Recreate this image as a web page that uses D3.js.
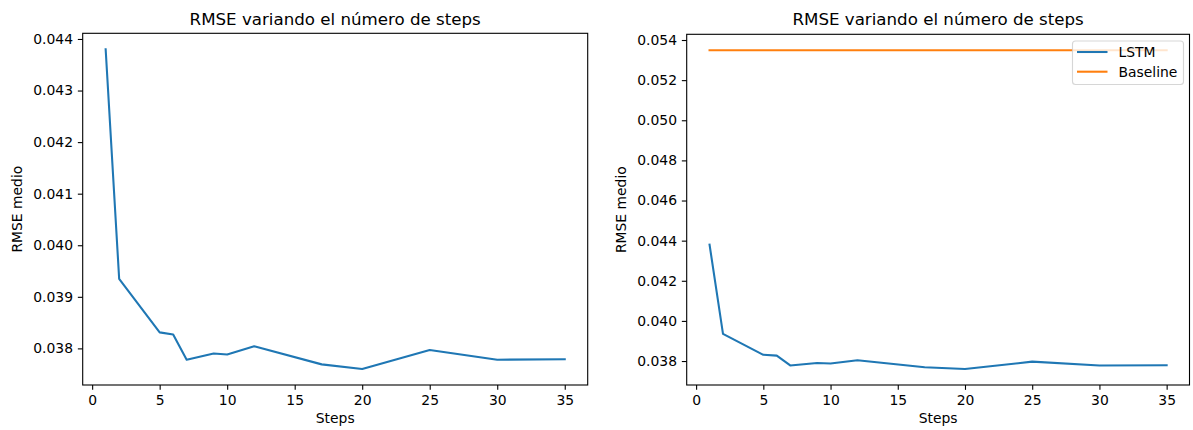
<!DOCTYPE html>
<html>
<head>
<meta charset="utf-8">
<script src="https://cdn.jsdelivr.net/npm/d3@7"></script>
<style>
  body { margin: 0; background: #fff; }
  text { font-family: "DejaVu Sans", sans-serif; fill: #000; }
</style>
</head>
<body>
<script>
// data
var steps = [1, 2, 5, 6, 7, 9, 10, 12, 17, 20, 25, 30, 35];
var rmseLstm = [0.04380, 0.03935, 0.03831, 0.03827, 0.03778, 0.03790, 0.03788,
                0.03804, 0.03769, 0.03760, 0.03797, 0.03778, 0.03779];
var rmseBaseline = [0.05349, 0.05349, 0.05349, 0.05349, 0.05349, 0.05349, 0.05349,
                    0.05349, 0.05349, 0.05349, 0.05349, 0.05349, 0.05349];
var xTicks = [0, 5, 10, 15, 20, 25, 30, 35];
var yTicksLeft = [0.038, 0.039, 0.040, 0.041, 0.042, 0.043, 0.044];
var yTicksRight = [0.038, 0.040, 0.042, 0.044, 0.046, 0.048, 0.050, 0.052, 0.054];
var title = "RMSE variando el número de steps";
var xLabel = "Steps";
var yLabel = "RMSE medio";
var seriesNames = ["LSTM", "Baseline"];
var colors = ["#1f77b4", "#ff7f0e"];

var svg = d3.select("body").append("svg")
  .attr("width", 1193)
  .attr("height", 430);

var fs = 13.9;   // 10pt at 100 dpi
var tick = 4.86;

// matplotlib style 5% margins
function padded(ext) {
  var r = ext[1] - ext[0];
  return [ext[0] - 0.05 * r, ext[1] + 0.05 * r];
}

function drawPanel(left, right, top, bottom, series, yTicks, yLabelX, legend) {
  var g = svg.append("g");
  var allY = [].concat.apply([], series.map(function(s) { return s.values; }));
  var x = d3.scaleLinear().domain(padded(d3.extent(steps))).range([left, right]);
  var y = d3.scaleLinear().domain(padded(d3.extent(allY))).range([bottom, top]);

  var line = d3.line()
    .x(function(d, i) { return x(steps[i]); })
    .y(function(d) { return y(d); });

  series.forEach(function(s) {
    g.append("path")
      .attr("d", line(s.values))
      .attr("fill", "none")
      .attr("stroke", s.color)
      .attr("stroke-width", 2.08)
      .attr("stroke-linejoin", "round")
      .attr("stroke-linecap", "square");
  });

  var xAxis = d3.axisBottom(x).tickValues(xTicks).tickSize(tick).tickPadding(tick)
    .tickFormat(d3.format("d"));
  var gx = g.append("g").attr("transform", "translate(0," + bottom + ")").call(xAxis);
  gx.select(".domain").remove();
  gx.selectAll("text").attr("font-size", fs).attr("font-family", "DejaVu Sans");
  gx.selectAll("line").attr("stroke", "#000").attr("stroke-width", 1.1);

  var yAxis = d3.axisLeft(y).tickValues(yTicks).tickSize(tick).tickPadding(tick)
    .tickFormat(d3.format(".3f"));
  var gy = g.append("g").attr("transform", "translate(" + left + ",0)").call(yAxis);
  gy.select(".domain").remove();
  gy.selectAll("text").attr("font-size", fs).attr("font-family", "DejaVu Sans");
  gy.selectAll("line").attr("stroke", "#000").attr("stroke-width", 1.1);

  // frame
  g.append("rect")
    .attr("x", left).attr("y", top)
    .attr("width", right - left).attr("height", bottom - top)
    .attr("fill", "none").attr("stroke", "#000").attr("stroke-width", 1.1);

  g.append("text")
    .attr("x", (left + right) / 2).attr("y", 24.5)
    .attr("text-anchor", "middle")
    .attr("font-size", 16.67)
    .text(title);

  g.append("text")
    .attr("x", (left + right) / 2).attr("y", 422.5)
    .attr("text-anchor", "middle")
    .attr("font-size", fs)
    .text(xLabel);

  g.append("text")
    .attr("transform", "translate(" + yLabelX + "," + (top + bottom) / 2 + ") rotate(-90)")
    .attr("text-anchor", "middle")
    .attr("dy", "0.35em")
    .attr("font-size", fs)
    .text(yLabel);

  if (legend) {
    var lg = g.append("g");
    lg.append("rect")
      .attr("x", 1072.5).attr("y", 41)
      .attr("width", 111).attr("height", 43.5)
      .attr("rx", 3).attr("ry", 3)
      .attr("fill", "rgba(255,255,255,0.8)")
      .attr("stroke", "rgba(204,204,204,0.8)")
      .attr("stroke-width", 1.1);
    series.forEach(function(s, i) {
      var ly = 52 + i * 19.7;
      lg.append("line")
        .attr("x1", 1077).attr("x2", 1107.5)
        .attr("y1", ly).attr("y2", ly)
        .attr("stroke", s.color).attr("stroke-width", 2.08);
      lg.append("text")
        .attr("x", 1118.5).attr("y", ly)
        .attr("dy", "0.36em")
        .attr("font-size", fs)
        .text(s.name);
    });
  }
}

drawPanel(82.7, 587.7, 33.3, 385,
  [{ name: seriesNames[0], values: rmseLstm, color: colors[0] }],
  yTicksLeft, 17.5, false);

drawPanel(686.7, 1189.5, 34.3, 385,
  [{ name: seriesNames[0], values: rmseLstm, color: colors[0] },
   { name: seriesNames[1], values: rmseBaseline, color: colors[1] }],
  yTicksRight, 621.5, true);
</script>
</body>
</html>
